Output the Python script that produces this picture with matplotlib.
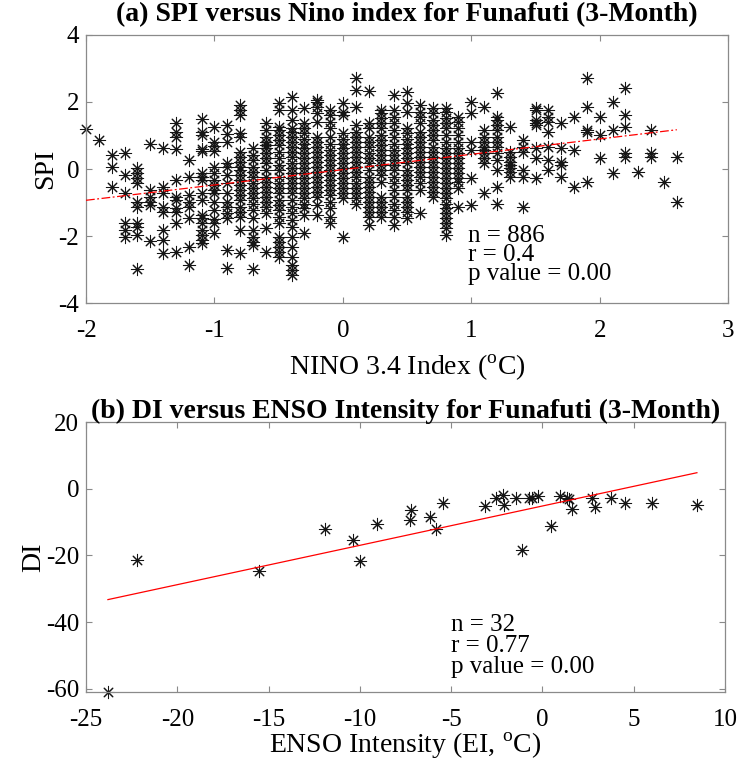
import numpy as np
import matplotlib
matplotlib.use("Agg")
import matplotlib.pyplot as plt

plt.rcParams['font.family'] = ['Liberation Serif', 'DejaVu Serif']
plt.rcParams['mathtext.fontset'] = 'custom'
plt.rcParams['mathtext.rm'] = 'Liberation Serif'
plt.rcParams['axes.unicode_minus'] = False

# --- Panel (a): SPI vs NINO 3.4, one list of SPI values per 0.1 degC column ---
nino_cols = [-2.0, -1.9, -1.8, -1.7, -1.6, -1.5, -1.4, -1.3, -1.2, -1.1, -1.0, -0.9,
             -0.8, -0.7, -0.6, -0.5, -0.4, -0.3, -0.2, -0.1, 0.0, 0.1, 0.2, 0.3, 0.4,
             0.5, 0.6, 0.7, 0.8, 0.9, 1.0, 1.1, 1.2, 1.3, 1.4, 1.5, 1.6, 1.7, 1.8,
             1.9, 2.0, 2.1, 2.2, 2.3, 2.4, 2.5, 2.6]
spi_by_col = [
    [1.18],
    [0.88],
    [0.42, 0.07, -0.55],
    [0.47, -0.18, -0.73, -1.62, -1.82, -2.02],
    [0.02, -0.13, -0.28, -0.43, -0.98, -1.12, -1.62, -1.72, -1.97, -2.97],
    [0.75, -0.63, -0.83, -0.98, -1.08, -2.14],
    [0.62, -0.53, -0.73, -1.12, -1.27, -1.82, -2.12, -2.5],
    [1.36, 1.11, 0.96, 0.6, -0.33, -0.83, -0.93, -1.17, -1.27, -1.62, -2.47],
    [0.27, -0.23, -0.78, -0.98, -1.12, -1.47, -2.32, -2.87],
    [1.5, 1.1, 1.0, 0.6, 0.55, -0.13, -0.23, -0.33, -0.73, -0.93, -1.37, -1.45,
     -1.62, -1.82, -1.97, -2.12, -2.22],
    [1.25, 0.8, 0.7, 0.55, 0.07, -0.13, -0.33, -0.48, -0.63, -0.73, -0.98, -1.22,
     -1.5, -1.62, -1.9],
    [1.3, 1.05, 0.82, 0.17, 0.05, -0.18, -0.43, -0.73, -0.98, -1.12, -1.32, -1.47,
     -2.42, -2.95],
    [1.91, 1.76, 1.61, 1.06, 0.96, 0.52, 0.37, 0.22, 0.07, -0.03, -0.18, -0.33,
     -0.48, -0.63, -0.78, -0.93, -1.12, -1.27, -1.42, -1.82, -2.52],
    [0.62, 0.42, 0.27, 0.07, -0.08, -0.23, -0.43, -0.58, -0.73, -0.88, -1.03,
     -1.22, -1.47, -1.82, -2.02, -2.17, -2.27, -2.97],
    [1.36, 1.16, 0.96, 0.81, 0.72, 0.62, 0.47, 0.32, 0.17, -0.03, -0.23, -0.38,
     -0.53, -0.68, -0.83, -0.98, -1.12, -1.32, -1.77, -2.47],
    [1.96, 1.76, 1.26, 1.16, 1.01, 0.86, 0.72, 0.52, 0.32, 0.12, -0.03, -0.23,
     -0.43, -0.58, -0.73, -0.93, -1.08, -1.22, -1.42, -1.62, -2.02, -2.17, -2.32,
     -2.47, -2.62],
    [2.16, 1.76, 1.46, 1.21, 1.11, 0.96, 0.81, 0.66, 0.52, 0.37, 0.17, 0.02,
     -0.13, -0.28, -0.43, -0.58, -0.73, -0.93, -1.12, -1.32, -1.52, -1.72, -2.02,
     -2.32, -2.62, -2.87, -3.02, -3.16],
    [1.81, 1.36, 1.21, 1.06, 0.91, 0.76, 0.62, 0.47, 0.32, 0.17, 0.02, -0.13,
     -0.28, -0.43, -0.58, -0.73, -0.88, -1.03, -1.17, -1.37, -1.92],
    [2.06, 2.01, 1.86, 1.66, 1.41, 0.96, 0.81, 0.66, 0.52, 0.37, 0.22, 0.07,
     -0.08, -0.23, -0.38, -0.53, -0.68, -0.83, -1.08, -1.37],
    [1.76, 1.61, 1.41, 1.21, 0.96, 0.76, 0.57, 0.42, 0.27, 0.12, -0.03, -0.18,
     -0.33, -0.48, -0.63, -0.78, -0.98, -1.17, -1.42, -1.62],
    [1.96, 1.71, 1.61, 1.06, 0.91, 0.76, 0.62, 0.47, 0.32, 0.17, 0.02, -0.13,
     -0.28, -0.43, -0.58, -0.73, -0.88, -2.02],
    [2.71, 2.36, 1.86, 1.31, 1.11, 0.96, 0.81, 0.66, 0.52, 0.37, 0.22, 0.07,
     -0.08, -0.23, -0.43, -0.58, -0.73, -0.88, -1.03],
    [2.34, 1.36, 1.21, 0.96, 0.81, 0.66, 0.47, 0.32, 0.17, -0.03, -0.23, -0.38,
     -0.53, -0.68, -0.83, -0.98, -1.12, -1.27, -1.42, -1.67],
    [1.76, 1.66, 1.51, 1.36, 1.21, 1.01, 0.86, 0.72, 0.57, 0.42, 0.27, 0.12,
     -0.03, -0.18, -0.38, -0.83, -0.98, -1.12, -1.27, -1.42],
    [2.21, 1.76, 1.56, 1.36, 1.16, 0.96, 0.76, 0.57, 0.42, 0.27, 0.12, -0.03,
     -0.23, -0.43, -0.63, -0.83, -1.03, -1.22, -1.42, -1.67],
    [2.31, 1.96, 1.71, 1.21, 1.06, 0.91, 0.76, 0.62, 0.47, 0.32, 0.17, -0.03,
     -0.18, -0.33, -0.48, -0.63, -0.83, -0.98, -1.12, -1.27, -1.47],
    [1.91, 1.71, 1.56, 1.36, 1.11, 0.96, 0.81, 0.66, 0.52, 0.37, 0.22, 0.07,
     -0.08, -0.23, -0.43, -0.63, -1.32],
    [1.81, 1.66, 1.46, 1.31, 1.16, 1.01, 0.86, 0.66, 0.52, 0.37, 0.22, 0.07,
     -0.08, -0.23, -0.38, -0.53, -0.68, -0.83],
    [1.81, 1.71, 1.51, 1.36, 1.21, 1.01, 0.81, 0.62, 0.47, 0.32, 0.17, 0.02,
     -0.13, -0.28, -0.43, -0.58, -0.73, -0.88, -1.03, -1.17, -1.32, -1.47, -1.62,
     -1.77, -1.97],
    [1.56, 1.41, 1.21, 1.01, 0.81, 0.62, 0.47, 0.32, 0.17, 0.02, -0.13, -0.28,
     -0.38, -0.58, -1.12],
    [2.01, 1.66, 0.81, 0.57, -0.28, -1.08],
    [1.86, 1.16, 0.96, 0.81, 0.66, 0.57, 0.47, 0.32, 0.17, -0.73],
    [2.26, 1.56, 1.46, 1.31, 1.16, 0.96, 0.81, 0.66, 0.47, 0.27, -0.03, -0.53, -1.03],
    [1.26, 0.52, 0.37, 0.22, 0.12, 0.02, -0.08, -0.23],
    [0.86, 0.66, 0.52, -0.03, -0.23, -1.12],
    [1.81, 1.76, 1.46, 1.36, 1.31, 0.62, 0.32, -0.28],
    [1.76, 1.56, 1.41, 1.11, 0.66, 0.27, -0.03],
    [1.36, 0.62, 0.22, 0.12, -0.23],
    [1.56, 0.57, -0.53],
    [2.71, 1.86, 1.16, 1.11, -0.38],
    [1.56, 1.01, 0.32],
    [2.01, 1.16, -0.13],
    [2.41, 1.61, 1.26, 0.47, 0.37],
    [-0.08],
    [1.16, 0.47, 0.37],
    [-0.38],
    [0.35, -0.98],
]
stats_a = ["n = 886", "r = 0.4", "p value = 0.00"]

# --- Panel (b): Drought intensity vs ENSO intensity ---
ei = [-23.8, -22.2, -15.55, -11.9, -10.35, -9.97, -9.06, -7.2, -7.26, -6.16,
      -5.84, -5.47, -3.16, -2.56, -2.14, -2.1, -1.47, -1.1, -0.74, -0.56, -0.25,
      0.45, 0.94, 1.32, 1.45, 1.63, 2.73, 2.87, 3.73, 4.54, 6.0, 8.46]
di = [-61.0, -21.5, -24.8, -12.1, -15.3, -21.8, -10.6, -6.3, -9.5, -8.6,
      -12.1, -4.3, -5.1, -2.8, -1.9, -4.9, -2.8, -18.3, -2.8, -2.8, -2.1,
      -11.1, -2.1, -2.8, -3.1, -6.1, -2.8, -5.5, -2.7, -4.3, -4.3, -5.0]
stats_b = ["n = 32", "r = 0.77", "p value = 0.00"]

nino = np.concatenate([[c] * len(v) for c, v in zip(nino_cols, spi_by_col)])
spi = np.concatenate(spi_by_col)

fig = plt.figure(figsize=(7.39, 7.74), dpi=100)
ax1 = fig.add_axes([0.1164, 0.6085, 0.869, 0.3463])
ax2 = fig.add_axes([0.1164, 0.1059, 0.8647, 0.3488])

star = dict(marker=(8, 2, 0), s=78, color='#151515', linewidths=0.75,
            clip_on=False)
spine_col = '#8a8a8a'


def style(ax):
    for sp in ax.spines.values():
        sp.set_color(spine_col)
        sp.set_linewidth(0.9)
    ax.tick_params(direction='in', top=True, right=True, length=4,
                   color=spine_col, labelsize=18)
    ax.tick_params(axis='x', pad=12)
    ax.tick_params(axis='y', pad=5)


# panel (a)
ax1.scatter(nino, spi, **star, zorder=2)
k, b = np.polyfit(nino, spi, 1)
xl = np.array([nino.min(), nino.max()])
ax1.plot(xl, k * xl + b, color='red', lw=0.9, ls=(0, (7, 2, 1.5, 2)), zorder=3)
ax1.set_xlim(-2, 3)
ax1.set_ylim(-4, 4)
ax1.set_xticks(range(-2, 4))
ax1.set_yticks([-4, -2, 0, 2, 4])
style(ax1)
ax1.set_title("(a) SPI versus Nino index for Funafuti (3-Month)",
              fontsize=20, fontweight='bold', pad=10)
ax1.set_xlabel(r"NINO 3.4 Index ($^{\rm o}$C)", fontsize=20, labelpad=8)
ax1.set_ylabel("SPI", fontsize=20, labelpad=0)
ax1.text(0.595, 0.29, "\n".join(stats_a), transform=ax1.transAxes,
         fontsize=18, va='top', ha='left', linespacing=0.82)

# panel (b)
ax2.scatter(ei, di, **star, zorder=2)
k2, b2 = np.polyfit(ei, di, 1)
xl2 = np.array([min(ei), max(ei)])
ax2.plot(xl2, k2 * xl2 + b2, color='red', lw=0.9, zorder=3)
ax2.set_xlim(-25, 10)
ax2.set_ylim(-61, 20)
ax2.set_xticks(range(-25, 11, 5))
ax2.set_yticks([-60, -40, -20, 0, 20])
style(ax2)
ax2.set_title("(b) DI versus ENSO Intensity for Funafuti (3-Month)",
              fontsize=20, fontweight='bold', pad=3)
ax2.set_xlabel(r"ENSO Intensity (EI, $^{\rm o}$C)", fontsize=20, labelpad=0)
ax2.set_ylabel("DI", fontsize=20, labelpad=0)
ax2.text(0.571, 0.289, "\n".join(stats_b), transform=ax2.transAxes,
         fontsize=18, va='top', ha='left', linespacing=0.95)

fig.savefig("out.png", dpi=100)
